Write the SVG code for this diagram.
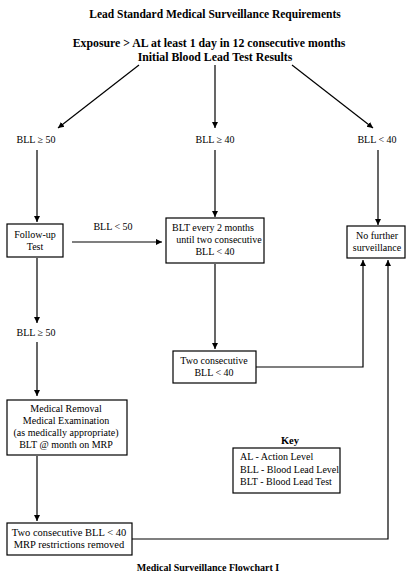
<svg xmlns="http://www.w3.org/2000/svg" width="420" height="584" viewBox="0 0 420 584">
<defs>
<marker id="ah" viewBox="0 0 10 10" refX="10" refY="5" markerWidth="6" markerHeight="8" markerUnits="userSpaceOnUse" orient="auto">
<path d="M0,0 L10,5 L0,10 Z" fill="#000"/>
</marker>
<style>
text{font-family:"Liberation Serif","Times New Roman",serif;font-size:10px;fill:#000;text-anchor:middle}
.b{font-weight:bold;font-size:11.8px}
.t{font-weight:bold;font-size:11.5px}
.k{font-weight:bold;font-size:10.5px}
.box{fill:#fff;stroke:#000;stroke-width:1.2}
.c{fill:none;stroke:#000;stroke-width:1.2}
.a{marker-end:url(#ah)}
</style>
</defs>
<rect width="420" height="584" fill="#fff"/>
<text class="t" x="215" y="18">Lead Standard Medical Surveillance Requirements</text>
<text class="b" x="209" y="47">Exposure &gt; AL at least 1 day in 12 consecutive months</text>
<text class="b" x="215" y="61">Initial Blood Lead Test Results</text>

<g id="connectors">
<line class="c a" x1="139" y1="65" x2="58" y2="128"/>
<line class="c a" x1="215" y1="65" x2="215" y2="128"/>
<line class="c a" x1="292" y1="65" x2="373" y2="128"/>
<line class="c a" x1="37" y1="150" x2="37" y2="222"/>
<line class="c a" x1="215" y1="150" x2="215" y2="217"/>
<line class="c a" x1="378" y1="150" x2="378" y2="225"/>
<line class="c a" x1="72" y1="242" x2="162" y2="242"/>
<line class="c a" x1="37" y1="258" x2="37" y2="323"/>
<line class="c a" x1="37" y1="342" x2="37" y2="396"/>
<line class="c a" x1="215" y1="264" x2="215" y2="349"/>
<polyline class="c a" points="256,367 363,367 363,260"/>
<line class="c a" x1="37" y1="456" x2="37" y2="521"/>
<polyline class="c a" points="132,539 388,539 388,260"/>
</g>

<g id="lbl-bll50"><text x="36" y="143">BLL ≥ 50</text></g>
<g id="lbl-bll40"><text x="215" y="143">BLL ≥ 40</text></g>
<g id="lbl-bll-lt40"><text x="377" y="143">BLL &lt; 40</text></g>
<g id="lbl-bll-lt50"><text x="113" y="230">BLL &lt; 50</text></g>
<g id="lbl-bll50b"><text x="36" y="336">BLL ≥ 50</text></g>

<g id="followup">
<rect class="box" x="7" y="224" width="56" height="33"/>
<text x="35" y="238">Follow-up</text>
<text x="35" y="250">Test</text>
</g>

<g id="blt">
<rect class="box" x="166" y="218" width="98" height="45"/>
<text x="213" y="231">BLT every 2 months</text>
<text x="219" y="243">until two consecutive</text>
<text x="215" y="255">BLL &lt; 40</text>
</g>

<g id="nofurther">
<rect class="box" x="347" y="226" width="58" height="32"/>
<text x="377" y="239">No further</text>
<text x="377" y="251">surveillance</text>
</g>

<g id="twocons">
<rect class="box" x="173" y="351" width="83" height="32"/>
<text x="214" y="364">Two consecutive</text>
<text x="214" y="376">BLL &lt; 40</text>
</g>

<g id="removal">
<rect class="box" x="7" y="400" width="120" height="55"/>
<text x="66" y="412">Medical Removal</text>
<text x="66" y="424">Medical Examination</text>
<text x="66" y="436">(as medically appropriate)</text>
<text x="66" y="448">BLT @ month on MRP</text>
</g>

<g id="restrictions">
<rect class="box" x="7" y="523" width="125" height="32"/>
<text x="69" y="536" style="font-size:10.5px">Two consecutive BLL &lt; 40</text>
<text x="69" y="548" style="font-size:10.5px">MRP restrictions removed</text>
</g>

<g id="key">
<text class="k" x="290" y="444">Key</text>
<rect class="box" x="233" y="448" width="107" height="45"/>
<text x="240" y="460" style="text-anchor:start">AL - Action Level</text>
<text x="240" y="473" style="text-anchor:start">BLL - Blood Lead Level</text>
<text x="240" y="485" style="text-anchor:start">BLT - Blood Lead Test</text>
</g>

<text class="k" x="208" y="571" style="font-size:10px">Medical Surveillance Flowchart I</text>
</svg>
